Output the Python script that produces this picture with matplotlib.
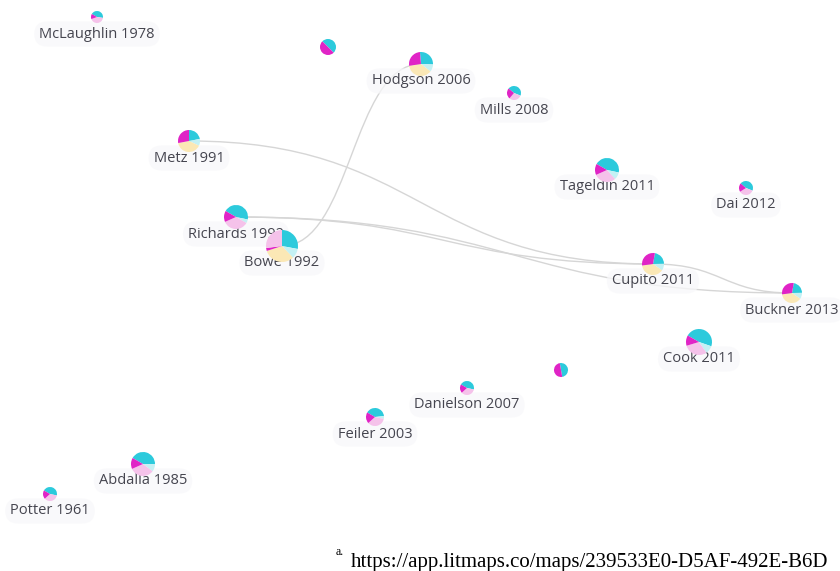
import matplotlib
matplotlib.use("Agg")
import matplotlib.pyplot as plt
from matplotlib.patches import Wedge
from matplotlib.path import Path
from matplotlib.patches import PathPatch

# node data (pixel positions of the glyph centres, radius, label)
names = ["McLaughlin 1978", "", "Hodgson 2006", "Mills 2008", "Metz 1991",
         "Tageldin 2011", "Dai 2012", "Richards 1992", "Bowe 1992",
         "Cupito 2011", "Buckner 2013", "Cook 2011", "", "Danielson 2007",
         "Feiler 2003", "Abdalla 1985", "Potter 1961"]
xs = [97, 328, 421, 514, 189, 607, 746, 236, 282, 653, 792, 699, 561, 467, 375, 143, 50]
ys = [17, 47, 64, 93, 141, 170, 188, 217, 246, 264, 293, 342, 370, 388, 417, 464, 494]
radii = [6, 8, 12, 7, 11, 12, 7, 12, 16, 11, 10, 13, 7, 7, 9, 12, 7]

# pie composition, clockwise from start angle
starts = [150, 135, 95, 140, 90, 150, 140, 150, 90, 80, 80, 150, 100, 150, 150, 150, 150]
parts = [
    [("c", .44), ("p", .42), ("m", .14)],
    [("c", .5), ("m", .5)],
    [("c", .27), ("lc", .10), ("y", .37), ("m", .26)],
    [("c", .45), ("p", .30), ("m", .25)],
    [("c", .22), ("lc", .10), ("y", .40), ("m", .28)],
    [("c", .45), ("lc", .10), ("p", .30), ("m", .15)],
    [("c", .45), ("p", .35), ("m", .20)],
    [("c", .45), ("lc", .05), ("p", .35), ("m", .15)],
    [("c", .28), ("lc", .10), ("y", .32), ("m", .03), ("p", .27)],
    [("c", .22), ("lc", .10), ("y", .38), ("m", .30)],
    [("c", .22), ("lc", .10), ("y", .38), ("m", .30)],
    [("c", .47), ("lc", .10), ("p", .30), ("m", .13)],
    [("c", .5), ("m", .5)],
    [("c", .45), ("p", .35), ("m", .20)],
    [("c", .40), ("lc", .05), ("p", .35), ("m", .20)],
    [("c", .42), ("lc", .10), ("p", .33), ("m", .15)],
    [("c", .45), ("p", .35), ("m", .20)],
]
colors = {"c": "#2ccadc", "lc": "#c4f1f4", "y": "#fbe8b5", "p": "#f5c2ea", "m": "#e024c6"}

# citation links (source, target) by node index
links = [(4, 9), (7, 9), (9, 10), (7, 10), (8, 2)]

fig = plt.figure(figsize=(8.4, 5.71), dpi=100)
ax = fig.add_axes([0, 0, 1, 1])
ax.set_xlim(0, 840)
ax.set_ylim(571, 0)
ax.axis("off")

for a, b in links:
    x0, y0, x1, y1 = xs[a], ys[a], xs[b], ys[b]
    dx = (x1 - x0) * 0.5
    verts = [(x0, y0), (x0 + dx, y0), (x1 - dx, y1), (x1, y1)]
    path = Path(verts, [Path.MOVETO, Path.CURVE4, Path.CURVE4, Path.CURVE4])
    ax.add_patch(PathPatch(path, fc="none", ec="#d6d6d6", lw=1.0, zorder=1))

for i in range(len(names)):
    if names[i]:
        ax.text(xs[i], ys[i] + 17, names[i], ha="center", va="center",
                fontsize=10.5, family="Open Sans", color="#45454f", zorder=3,
                bbox=dict(boxstyle="round,pad=0.35,rounding_size=0.9",
                          fc="#f8f8fa", ec="none", alpha=0.75))
    s = starts[i]
    for key, frac in parts[i]:
        span = frac * 360
        ax.add_patch(Wedge((xs[i], ys[i]), radii[i], -s, -s + span,
                           fc=colors[key], ec="none", zorder=4))
        s -= span

fig.text(336 / 840, 1 - 555 / 571, "a.", fontsize=8.5, family="Liberation Serif",
         color="black", va="baseline")
fig.text(351 / 840, 1 - 567 / 571, "https://app.litmaps.co/maps/239533E0-D5AF-492E-B6D",
         fontsize=15.0, family="Liberation Serif", color="black", va="baseline")

fig.savefig("out.png", dpi=100)
